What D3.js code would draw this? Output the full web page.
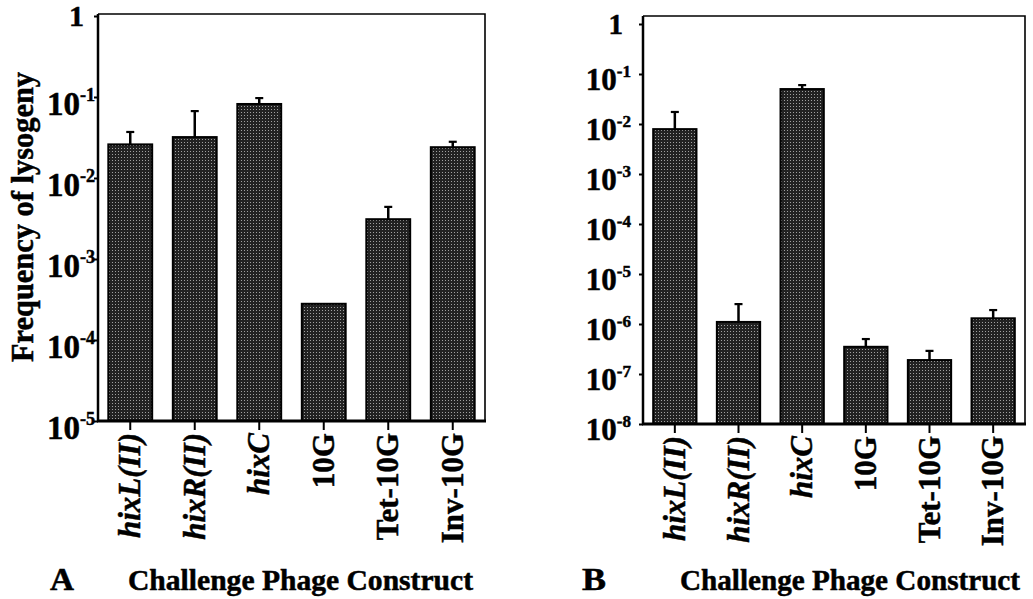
<!DOCTYPE html>
<html>
<head>
<meta charset="utf-8">
<script src="https://cdn.jsdelivr.net/npm/d3@7"></script>
<style>
  html, body { margin: 0; padding: 0; background: #fff; }
  svg { display: block; }
  text { font-family: "Liberation Serif", "Times New Roman", serif; font-weight: bold; fill: #000; stroke: #000; stroke-width: 0.5px; }
</style>
</head>
<body>
<svg id="chart" width="1033" height="599"></svg>
<script>
// ---------- data ----------
const categories = ["hixL(II)", "hixR(II)", "hixC", "10G", "Tet-10G", "Inv-10G"];
const italicCategories = ["hixL(II)", "hixR(II)", "hixC"];
const valuesA = [0.026, 0.032, 0.082, 2.8e-4, 3.1e-3, 0.024];
const errTopA = [0.037, 0.067, 0.097, null, 4.4e-3, 0.028];
const valuesB = [7.9e-3, 1.1e-6, 0.05, 3.5e-7, 1.9e-7, 1.3e-6];
const errTopB = [0.0174, 2.5e-6, 0.06, 5e-7, 2.9e-7, 1.9e-6];
const tickExpA = [0, -1, -2, -3, -4, -5];
const tickExpB = [0, -1, -2, -3, -4, -5, -6, -7, -8];
const yTitle = "Frequency of lysogeny";
const xTitle = "Challenge Phage Construct";
const panelLetters = ["A", "B"];

const svg = d3.select("#chart");

// stipple pattern for bars
const defs = svg.append("defs");
const pat = defs.append("pattern").attr("id", "stipple")
  .attr("width", 3).attr("height", 3).attr("patternUnits", "userSpaceOnUse");
pat.append("rect").attr("width", 3).attr("height", 3).attr("fill", "#222");
pat.append("rect").attr("x", 1).attr("y", 1).attr("width", 1).attr("height", 1).attr("fill", "#a0a0a0");

function panel(cfg) {
  const g = svg.append("g");
  const x = d3.scaleBand().domain(categories)
    .range([cfg.left, cfg.right]).paddingInner(0.32).paddingOuter(0.16);
  const y = d3.scaleLog().domain([Math.pow(10, cfg.minExp), 1])
    .range([cfg.bottom, cfg.oneY]);

  // frame (top + right)
  g.append("path")
    .attr("d", `M${cfg.left},${cfg.frameTop}H${cfg.right}V${cfg.bottom}`)
    .attr("fill", "none").attr("stroke", "#000").attr("stroke-width", 1.6);

  // bars
  g.selectAll("rect.bar").data(categories).join("rect")
    .attr("class", "bar")
    .attr("x", d => x(d))
    .attr("width", x.bandwidth())
    .attr("y", (d, i) => y(cfg.values[i]))
    .attr("height", (d, i) => cfg.bottom - y(cfg.values[i]))
    .attr("fill", "url(#stipple)")
    .attr("stroke", "#000").attr("stroke-width", 2);

  // error bars
  const eb = categories.map((d, i) => ({ c: d, v: cfg.values[i], e: cfg.errs[i] })).filter(d => d.e != null);
  g.selectAll("line.err").data(eb).join("line")
    .attr("x1", d => x(d.c) + x.bandwidth() / 2).attr("x2", d => x(d.c) + x.bandwidth() / 2)
    .attr("y1", d => y(d.v)).attr("y2", d => y(d.e))
    .attr("stroke", "#000").attr("stroke-width", 2.5);
  g.selectAll("line.cap").data(eb).join("line")
    .attr("x1", d => x(d.c) + x.bandwidth() / 2 - 4).attr("x2", d => x(d.c) + x.bandwidth() / 2 + 4)
    .attr("y1", d => y(d.e)).attr("y2", d => y(d.e))
    .attr("stroke", "#000").attr("stroke-width", 2.2);

  // y axis
  const yAxis = d3.axisLeft(y).tickValues(cfg.tickExp.map(e => Math.pow(10, e)))
    .tickSize(4).tickSizeOuter(0).tickFormat("");
  const ya = g.append("g").attr("transform", `translate(${cfg.left},0)`).call(yAxis);
  ya.select(".domain").remove();
  ya.selectAll(".tick line").attr("stroke-width", 2);
  g.append("line").attr("x1", cfg.left).attr("x2", cfg.left)
    .attr("y1", cfg.frameTop).attr("y2", cfg.bottom + 1)
    .attr("stroke", "#000").attr("stroke-width", 2.5);

  // y tick labels
  cfg.tickExp.forEach(e => {
    const ty = y(Math.pow(10, e));
    if (e === 0) {
      g.append("text").attr("x", cfg.oneLabelX).attr("y", ty + cfg.oneFs * 0.34)
        .attr("text-anchor", "end").attr("font-size", cfg.oneFs).text("1");
    } else {
      const t = g.append("text").attr("x", cfg.left - cfg.labelGap).attr("y", ty + cfg.baseOff)
        .attr("text-anchor", "end").attr("font-size", cfg.fs);
      t.append("tspan").text("10");
      t.append("tspan").attr("font-size", cfg.fs * 0.55).attr("dy", -cfg.fs * 0.42).text(String(e));
    }
  });

  // x axis
  const xAxis = d3.axisBottom(x).tickSize(9).tickSizeOuter(0).tickFormat("");
  const xa = g.append("g").attr("transform", `translate(0,${cfg.bottom})`).call(xAxis);
  xa.select(".domain").remove();
  xa.selectAll(".tick line").attr("stroke-width", 2);
  g.append("line").attr("x1", cfg.left - 1).attr("x2", cfg.right + 1)
    .attr("y1", cfg.bottom).attr("y2", cfg.bottom)
    .attr("stroke", "#000").attr("stroke-width", 3);

  // x tick labels (rotated)
  categories.forEach(c => {
    const cx = x(c) + x.bandwidth() / 2;
    g.append("text")
      .attr("transform", `translate(${cx + 10},${cfg.bottom + 12}) rotate(-90)`)
      .attr("text-anchor", "end")
      .attr("font-size", 31)
      .attr("font-style", italicCategories.includes(c) ? "italic" : "normal")
      .text(c);
  });

  // panel letter + x title
  g.append("text").attr("x", cfg.letterX).attr("y", 590).attr("font-size", 31)
    .attr("textLength", 24).attr("lengthAdjust", "spacingAndGlyphs").text(cfg.letter);
  g.append("text").attr("x", cfg.titleX).attr("y", 590).attr("font-size", 29.5)
    .attr("textLength", cfg.titleLen).attr("lengthAdjust", "spacingAndGlyphs").text(xTitle);
}

panel({
  left: 98, right: 485, frameTop: 14, oneY: 16, bottom: 421, minExp: -5,
  values: valuesA, errs: errTopA, tickExp: tickExpA,
  fs: 33, oneFs: 30, labelGap: 3, baseOff: 18, oneLabelX: 84,
  letter: panelLetters[0], letterX: 50, titleX: 128, titleLen: 345
});
panel({
  left: 643, right: 1025, frameTop: 16, oneY: 24, bottom: 424, minExp: -8,
  values: valuesB, errs: errTopB, tickExp: tickExpB,
  fs: 31, oneFs: 29, labelGap: 12, baseOff: 16, oneLabelX: 623,
  letter: panelLetters[1], letterX: 582, titleX: 680, titleLen: 340
});

// y title
svg.append("text")
  .attr("transform", "translate(33,217) rotate(-90)")
  .attr("text-anchor", "middle").attr("font-size", 31)
  .attr("textLength", 290).attr("lengthAdjust", "spacingAndGlyphs")
  .text(yTitle);
</script>
</body>
</html>
